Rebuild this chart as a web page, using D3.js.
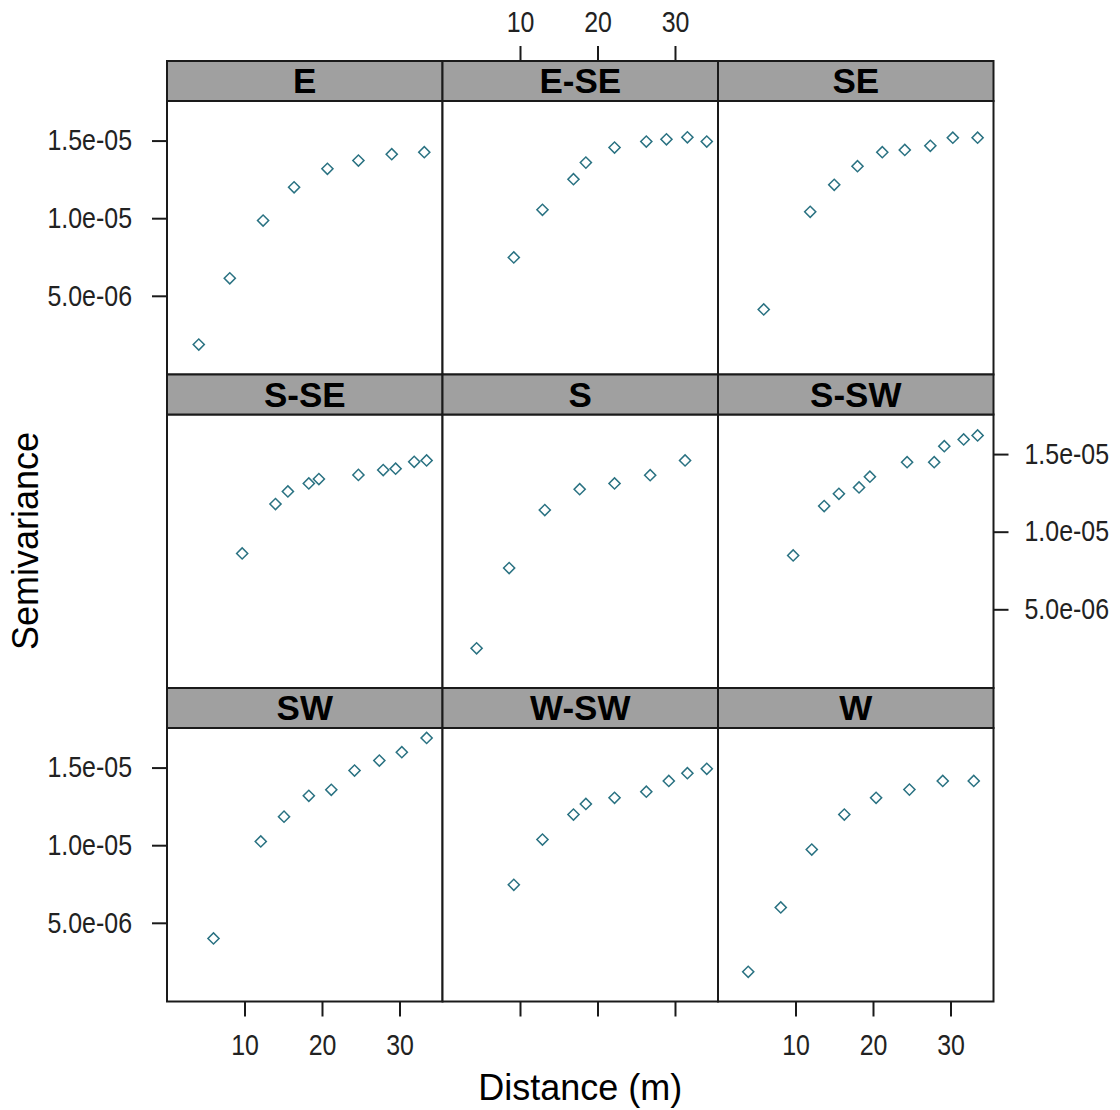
<!DOCTYPE html>
<html>
<head>
<meta charset="utf-8">
<script src="https://cdn.jsdelivr.net/npm/d3@7"></script>
<style>
  html, body { margin: 0; padding: 0; background: #fff; }
  svg { display: block; font-family: "Liberation Sans", Arial, Helvetica, sans-serif; }
  .tick text { transform-box: fill-box; }
</style>
</head>
<body>
<svg id="chart" width="1120" height="1110"></svg>
<script>
// Directional semivariograms, one panel per direction (3 x 3 lattice)
const directions = ["E", "E-SE", "SE", "S-SE", "S", "S-SW", "SW", "W-SW", "W"];

// lag distance (m) and semivariance for each direction
const distE   = [4.1, 8.1, 12.4, 16.4, 20.7, 24.7, 29.0, 33.2];
const gammaE  = [1.86e-6, 6.13e-6, 9.85e-6, 1.199e-5, 1.318e-5, 1.371e-5, 1.412e-5, 1.425e-5];

const distESE  = [9.2, 12.9, 16.9, 18.5, 22.2, 26.3, 28.9, 31.6, 34.1];
const gammaESE = [7.47e-6, 1.054e-5, 1.251e-5, 1.358e-5, 1.455e-5, 1.494e-5, 1.508e-5, 1.521e-5, 1.494e-5];

const distSE  = [5.9, 11.9, 15.0, 18.0, 21.2, 24.1, 27.4, 30.3, 33.5];
const gammaSE = [4.12e-6, 1.041e-5, 1.215e-5, 1.335e-5, 1.425e-5, 1.440e-5, 1.466e-5, 1.519e-5, 1.519e-5];

const distSSE  = [9.7, 14.0, 15.6, 18.3, 19.6, 24.7, 27.9, 29.5, 31.9, 33.5];
const gammaSSE = [8.60e-6, 1.178e-5, 1.259e-5, 1.311e-5, 1.339e-5, 1.366e-5, 1.397e-5, 1.406e-5, 1.450e-5, 1.459e-5];

const distS  = [4.4, 8.6, 13.2, 17.7, 22.2, 26.8, 31.3];
const gammaS = [2.49e-6, 7.66e-6, 1.139e-5, 1.274e-5, 1.311e-5, 1.364e-5, 1.459e-5];

const distSSW  = [9.7, 13.7, 15.6, 18.2, 19.6, 24.4, 27.9, 29.2, 31.7, 33.5];
const gammaSSW = [8.47e-6, 1.165e-5, 1.244e-5, 1.285e-5, 1.354e-5, 1.448e-5, 1.448e-5, 1.551e-5, 1.594e-5, 1.620e-5];

const distSW  = [6.0, 12.1, 15.1, 18.3, 21.2, 24.2, 27.4, 30.3, 33.5];
const gammaSW = [3.99e-6, 1.024e-5, 1.184e-5, 1.318e-5, 1.357e-5, 1.481e-5, 1.545e-5, 1.599e-5, 1.691e-5];

const distWSW  = [9.2, 12.9, 16.9, 18.5, 22.2, 26.3, 29.2, 31.6, 34.1];
const gammaWSW = [7.45e-6, 1.036e-5, 1.197e-5, 1.266e-5, 1.305e-5, 1.345e-5, 1.414e-5, 1.464e-5, 1.492e-5];

const distW  = [3.9, 8.1, 12.1, 16.3, 20.4, 24.7, 29.0, 33.0];
const gammaW = [1.84e-6, 5.99e-6, 9.72e-6, 1.197e-5, 1.305e-5, 1.358e-5, 1.414e-5, 1.414e-5];

const distances = [distE, distESE, distSE, distSSE, distS, distSSW, distSW, distWSW, distW];
const gammas    = [gammaE, gammaESE, gammaSE, gammaSSE, gammaS, gammaSSW, gammaSW, gammaWSW, gammaW];

// axis ticks
const xTicks = [10, 20, 30];
const yTicks = [5e-6, 1e-5, 1.5e-5];
const yTickLabels = ["5.0e-06", "1.0e-05", "1.5e-05"];

// ---- layout ----
const svg = d3.select("#chart");
const gridLeft = 167, gridTop = 61;
const colW = 275.5, stripH = 40, panelH = 273.5;
const rowH = stripH + panelH;
const lineCol = "#1a1a1a";
const pointCol = "#2a7282";

const x = d3.scaleLinear().domain([0, 35.55]).range([0, colW]);
const y = d3.scaleLinear().domain([-0.07e-6, 1.755e-5]).range([panelH, 0]);

const diamond = d3.symbol().type(d3.symbolSquare).size(62);

directions.forEach((name, i) => {
  const c = i % 3, r = Math.floor(i / 3);
  const gx = gridLeft + c * colW, gy = gridTop + r * rowH;
  const g = svg.append("g").attr("transform", `translate(${gx},${gy})`);

  // panel area
  const p = g.append("g").attr("transform", `translate(0,${stripH})`);
  p.append("rect").attr("width", colW).attr("height", panelH).attr("fill", "#fff");

  const pts = d3.zip(distances[i], gammas[i]);
  p.selectAll("path.pt").data(pts).join("path")
    .attr("class", "pt")
    .attr("d", diamond)
    .attr("transform", d => `translate(${x(d[0])},${y(d[1])}) rotate(45)`)
    .attr("fill", "none")
    .attr("stroke", pointCol)
    .attr("stroke-width", 1.5);

  p.append("rect").attr("width", colW).attr("height", panelH)
    .attr("fill", "none").attr("stroke", lineCol).attr("stroke-width", 2);

  // strip with direction label
  g.append("rect").attr("width", colW).attr("height", stripH)
    .attr("fill", "#a0a0a0").attr("stroke", lineCol).attr("stroke-width", 2);
  g.append("text")
    .attr("x", colW / 2).attr("y", 32)
    .attr("text-anchor", "middle")
    .attr("font-size", 35).attr("font-weight", "bold").attr("fill", "#000")
    .text(name);
});

// ---- axes (alternating, lattice style) ----
function styleAxis(sel, origin) {
  sel.select(".domain").remove();
  sel.selectAll(".tick line").attr("stroke", lineCol).attr("stroke-width", 2);
  sel.selectAll(".tick text")
    .attr("font-size", 29).attr("fill", "#222")
    .style("transform-origin", origin)
    .style("transform", "scaleX(0.86)");
}

const bottomY = gridTop + 3 * rowH;
for (let c = 0; c < 3; c++) {
  const ax = d3.axisBottom(x).tickValues(xTicks).tickSize(15).tickPadding(18)
    .tickFormat(c === 1 ? () => "" : d3.format("d"));
  svg.append("g").attr("transform", `translate(${gridLeft + c * colW},${bottomY})`)
    .call(ax).call(s => styleAxis(s, "center"));
}

// top axis over the middle column
svg.append("g").attr("transform", `translate(${gridLeft + colW},${gridTop})`)
  .call(d3.axisTop(x).tickValues(xTicks).tickSize(15).tickPadding(14).tickFormat(d3.format("d")))
  .call(s => styleAxis(s, "center"));

const yFmt = v => yTickLabels[yTicks.indexOf(v)];
[0, 2].forEach(r => {
  svg.append("g").attr("transform", `translate(${gridLeft},${gridTop + r * rowH + stripH})`)
    .call(d3.axisLeft(y).tickValues(yTicks).tickSize(15).tickPadding(20).tickFormat(yFmt))
    .call(s => styleAxis(s, "right center"));
});
svg.append("g").attr("transform", `translate(${gridLeft + 3 * colW},${gridTop + rowH + stripH})`)
  .call(d3.axisRight(y).tickValues(yTicks).tickSize(15).tickPadding(16).tickFormat(yFmt))
  .call(s => styleAxis(s, "left center"));

// axis titles
svg.append("text")
  .attr("transform", `translate(38,541) rotate(-90)`)
  .attr("text-anchor", "middle").attr("font-size", 36).attr("fill", "#000")
  .text("Semivariance");
svg.append("text")
  .attr("x", gridLeft + 1.5 * colW).attr("y", 1100)
  .attr("text-anchor", "middle").attr("font-size", 36).attr("fill", "#000")
  .text("Distance (m)");
</script>
</body>
</html>
